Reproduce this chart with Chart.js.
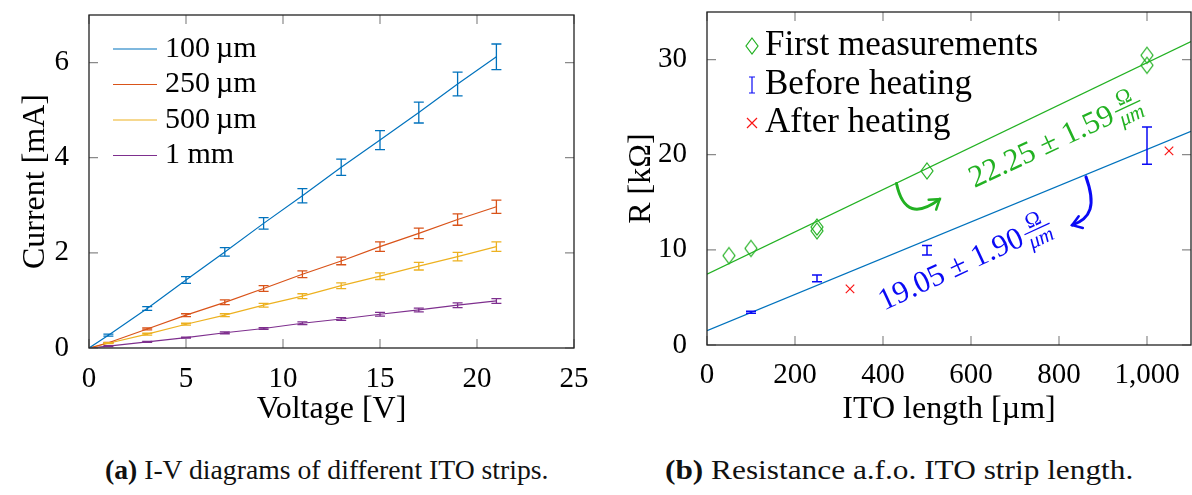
<!DOCTYPE html>
<html>
<head>
<meta charset="utf-8">
<script src="https://cdn.jsdelivr.net/npm/chart.js@4.4.1/dist/chart.umd.min.js"></script>
<style>
  body { margin: 0; background: #fff; width: 1192px; height: 495px; overflow: hidden; position: relative; font-family: "Liberation Serif", serif; }
  #ca { position: absolute; left: 0; top: 0; }
  #cb { position: absolute; left: 600px; top: 0; }
  .cap { position: absolute; top: 454px; font-size: 27px; line-height: 32px; white-space: nowrap; color: #111; transform-origin: 0 50%; }
</style>
</head>
<body>
<canvas id="ca" width="600" height="450"></canvas>
<canvas id="cb" width="592" height="450"></canvas>
<div class="cap" style="left:105px;transform:scaleX(1.025)"><b>(a)</b> I-V diagrams of different ITO strips.</div>
<div class="cap" style="left:665px;transform:scaleX(1.16)"><b>(b)</b> Resistance a.f.o. ITO strip length.</div>
<script>
// (a) I-V curves, current in mA, symmetric error in mA
var voltages = [0, 1, 3, 5, 7, 9, 11, 13, 15, 17, 19, 21];
var i100 = [0, 0.27, 0.83, 1.43, 2.02, 2.62, 3.20, 3.80, 4.37, 4.95, 5.55, 6.12];
var e100 = [0, 0.02, 0.04, 0.07, 0.09, 0.12, 0.15, 0.17, 0.20, 0.22, 0.25, 0.27];
var i250 = [0, 0.11, 0.40, 0.69, 0.96, 1.25, 1.55, 1.83, 2.13, 2.41, 2.70, 2.97];
var e250 = [0, 0.01, 0.02, 0.03, 0.05, 0.06, 0.07, 0.08, 0.10, 0.11, 0.12, 0.14];
var i500 = [0, 0.10, 0.29, 0.50, 0.69, 0.90, 1.09, 1.31, 1.51, 1.72, 1.92, 2.13];
var e500 = [0, 0.01, 0.02, 0.02, 0.03, 0.04, 0.05, 0.06, 0.07, 0.08, 0.09, 0.10];
var i1mm = [0, 0.04, 0.13, 0.22, 0.32, 0.41, 0.52, 0.61, 0.71, 0.80, 0.90, 0.99];
var e1mm = [0, 0.01, 0.01, 0.01, 0.02, 0.02, 0.03, 0.03, 0.04, 0.04, 0.05, 0.05];
var stripLabels = ['100\u2009µm', '250\u2009µm', '500\u2009µm', '1 mm'];

// (b) resistance in kOhm vs strip length in um
var firstLen = [50, 100, 250, 250, 500, 1000, 1000];
var firstR = [9.4, 10.15, 12.4, 12.0, 18.3, 30.45, 29.4];
var beforeLen = [100, 250, 500, 1000];
var beforeR = [3.45, 7.0, 9.95, 20.95];
var beforeErr = [0.1, 0.35, 0.5, 1.95];
var afterLen = [325, 1050];
var afterR = [5.9, 20.4];
var fitLen = [0, 1100];
var fitFirst = [7.45, 31.9];
var fitBefore = [1.5, 22.45];

var serif = '"Liberation Serif", serif';
var blue = 'rgb(0,114,189)', orange = 'rgb(217,83,25)', yellow = 'rgb(237,177,32)', purple = 'rgb(126,47,142)';
var green = 'rgb(34,177,34)', pureBlue = 'rgb(10,10,245)', red = 'rgb(250,20,20)';

function pts(xs, ys) {
  return xs.map(function (x, k) { return { x: x, y: ys[k] }; });
}

// tall hollow diamond, like the pgfplots marker
function diamondMark(w, h, color) {
  var c = document.createElement('canvas');
  c.width = w + 4; c.height = h + 4;
  var g = c.getContext('2d');
  g.strokeStyle = color;
  g.lineWidth = 1.2;
  g.beginPath();
  g.moveTo(c.width / 2, 2); g.lineTo(c.width - 2, c.height / 2);
  g.lineTo(c.width / 2, c.height - 2); g.lineTo(2, c.height / 2);
  g.closePath();
  g.stroke();
  return c;
}

// error bars, inward ticks, frame
function drawErrorBars(chart) {
  var ctx = chart.ctx, ys = chart.scales.y;
  chart.data.datasets.forEach(function (ds, i) {
    if (!ds.errorBars) return;
    var meta = chart.getDatasetMeta(i);
    ctx.save();
    ctx.strokeStyle = ds.errorColor || ds.borderColor;
    ctx.lineWidth = ds.errorWidth || 1.3;
    meta.data.forEach(function (pt, j) {
      var e = ds.errorBars[j];
      if (!e) return;
      var v = ds.data[j].y;
      var top = ys.getPixelForValue(v + e), bot = ys.getPixelForValue(v - e);
      var w = 5;
      ctx.beginPath();
      ctx.moveTo(pt.x, top); ctx.lineTo(pt.x, bot);
      ctx.moveTo(pt.x - w, top); ctx.lineTo(pt.x + w, top);
      ctx.moveTo(pt.x - w, bot); ctx.lineTo(pt.x + w, bot);
      ctx.stroke();
    });
    ctx.restore();
  });
}

function drawFrame(chart) {
  var ctx = chart.ctx, a = chart.chartArea, xs = chart.scales.x, ys = chart.scales.y;
  var L = 9;
  ctx.save();
  ctx.strokeStyle = '#8a8a8a';
  ctx.lineWidth = 1.2;
  ctx.beginPath();
  xs.ticks.forEach(function (t) {
    var px = xs.getPixelForValue(t.value);
    ctx.moveTo(px, a.bottom); ctx.lineTo(px, a.bottom - L);
    ctx.moveTo(px, a.top); ctx.lineTo(px, a.top + L);
  });
  ys.ticks.forEach(function (t) {
    var py = ys.getPixelForValue(t.value);
    ctx.moveTo(a.left, py); ctx.lineTo(a.left + L, py);
    ctx.moveTo(a.right, py); ctx.lineTo(a.right - L, py);
  });
  ctx.stroke();
  ctx.strokeStyle = '#222';
  ctx.lineWidth = 1.3;
  ctx.strokeRect(a.left, a.top, a.right - a.left, a.bottom - a.top);
  ctx.restore();
}

function makeDecor(id, extra) {
  return {
    id: id,
    afterDatasetsDraw: function (chart) { drawErrorBars(chart); },
    afterDraw: function (chart) { drawFrame(chart); extra(chart); }
  };
}

function legendA(chart) {
  var ctx = chart.ctx, a = chart.chartArea;
  ctx.save();
  ctx.font = '30px ' + serif;
  ctx.textBaseline = 'middle';
  ctx.fillStyle = '#000';
  chart.data.datasets.forEach(function (ds, i) {
    var y = a.top + 34 + i * 35.5;
    ctx.strokeStyle = ds.borderColor;
    ctx.lineWidth = 1.2;
    ctx.beginPath();
    ctx.moveTo(a.left + 24, y); ctx.lineTo(a.left + 68, y);
    ctx.stroke();
    ctx.fillText(ds.label, a.left + 76, y);
  });
  ctx.restore();
}

function legendB(chart) {
  var ctx = chart.ctx, a = chart.chartArea;
  var mx = a.left + 45, tx = a.left + 58;
  var rows = [a.top + 34, a.top + 73, a.top + 111];
  ctx.save();
  ctx.drawImage(diamondMark(12, 16, green), mx - 8, rows[0] - 10);
  ctx.lineWidth = 1.2;
  // error bar glyph
  ctx.strokeStyle = pureBlue;
  ctx.beginPath();
  ctx.moveTo(mx, rows[1] - 8); ctx.lineTo(mx, rows[1] + 8);
  ctx.moveTo(mx - 3, rows[1] - 8); ctx.lineTo(mx + 3, rows[1] - 8);
  ctx.moveTo(mx - 3, rows[1] + 8); ctx.lineTo(mx + 3, rows[1] + 8);
  ctx.stroke();
  // cross
  ctx.strokeStyle = red;
  ctx.beginPath();
  ctx.moveTo(mx - 5, rows[2] - 5); ctx.lineTo(mx + 5, rows[2] + 5);
  ctx.moveTo(mx + 5, rows[2] - 5); ctx.lineTo(mx - 5, rows[2] + 5);
  ctx.stroke();
  ctx.font = '35px ' + serif;
  ctx.fillStyle = '#000';
  ctx.textBaseline = 'middle';
  ctx.fillText('First measurements', tx, rows[0]);
  ctx.fillText('Before heating', tx, rows[1]);
  ctx.fillText('After heating', tx, rows[2]);
  ctx.restore();
}

// slope notes and curved arrows, placed in data coordinates
var slopeNotes = [
  { x: 608, y: 16.5, text: '22.25 ± 1.59', color: green,
    arrow: [[430.6, 16.98], [445, 13.9], [479, 13.6], [528.8, 15.33]] },
  { x: 402, y: 3.6, text: '19.05 ± 1.90', color: pureBlue,
    arrow: [[861.3, 17.67], [884.6, 14.7], [873, 13.3], [830, 12.6]] }
];

function notesB(chart) {
  var ctx = chart.ctx, xs = chart.scales.x, ys = chart.scales.y;
  slopeNotes.forEach(function (n) {
    ctx.save();
    ctx.translate(xs.getPixelForValue(n.x), ys.getPixelForValue(n.y));
    ctx.rotate(-25 * Math.PI / 180);
    ctx.fillStyle = n.color;
    ctx.font = '31px ' + serif;
    ctx.textBaseline = 'alphabetic';
    ctx.fillText(n.text, 0, 0);
    var w = ctx.measureText(n.text).width + 3;
    ctx.font = 'italic 21px ' + serif;
    var fw = ctx.measureText('μm').width + 2;
    ctx.textAlign = 'center';
    ctx.fillText('μm', w + fw / 2, 7);
    ctx.font = '21px ' + serif;
    ctx.fillText('Ω', w + fw / 2, -13);
    ctx.fillRect(w, -10, fw, 1.2);
    ctx.restore();

    var p = n.arrow.map(function (q) { return [xs.getPixelForValue(q[0]), ys.getPixelForValue(q[1])]; });
    ctx.save();
    ctx.strokeStyle = n.color;
    ctx.lineWidth = 3;
    ctx.lineCap = 'round';
    ctx.beginPath();
    ctx.moveTo(p[0][0], p[0][1]);
    ctx.bezierCurveTo(p[1][0], p[1][1], p[2][0], p[2][1], p[3][0], p[3][1]);
    ctx.stroke();
    var ang = Math.atan2(p[3][1] - p[2][1], p[3][0] - p[2][0]);
    ctx.lineWidth = 2.5;
    ctx.beginPath();
    ctx.moveTo(p[3][0] - 11 * Math.cos(ang - 0.6), p[3][1] - 11 * Math.sin(ang - 0.6));
    ctx.lineTo(p[3][0], p[3][1]);
    ctx.lineTo(p[3][0] - 11 * Math.cos(ang + 0.6), p[3][1] - 11 * Math.sin(ang + 0.6));
    ctx.stroke();
    ctx.restore();
  });
}

function axisX(min, max, step, title, height, pad) {
  return {
    type: 'linear', min: min, max: max,
    grid: { display: false }, border: { display: false },
    ticks: { stepSize: step, includeBounds: false, color: '#000', font: { family: serif, size: 29 }, padding: pad, maxRotation: 0 },
    title: { display: true, text: title, color: '#000', font: { family: serif, size: 32 }, padding: { top: 0, bottom: 21 } },
    afterFit: function (s) { s.height = height; s.paddingLeft = 0; s.paddingRight = 0; }
  };
}
function axisY(min, max, step, title, width, tpad) {
  return {
    type: 'linear', min: min, max: max,
    grid: { display: false }, border: { display: false },
    ticks: { stepSize: step, includeBounds: false, color: '#000', font: { family: serif, size: 29 }, padding: 12 },
    title: { display: true, text: title, color: '#000', font: { family: serif, size: 32 }, padding: { top: tpad, bottom: 0 } },
    afterFit: function (s) { s.width = width; s.paddingTop = 0; s.paddingBottom = 0; }
  };
}

function ivSet(label, ys, errs, color) {
  return { label: label, data: pts(voltages, ys), errorBars: errs, showLine: true, borderColor: color, backgroundColor: color, borderWidth: 1.2, pointRadius: 0, errorWidth: 1.3 };
}

new Chart(document.getElementById('ca'), {
  type: 'scatter',
  data: {
    datasets: [
      ivSet(stripLabels[0], i100, e100, blue),
      ivSet(stripLabels[1], i250, e250, orange),
      ivSet(stripLabels[2], i500, e500, yellow),
      ivSet(stripLabels[3], i1mm, e1mm, purple)
    ]
  },
  options: {
    responsive: false, animation: false, devicePixelRatio: 1,
    layout: { autoPadding: false, padding: { top: 15, right: 26, left: 0, bottom: 0 } },
    plugins: { legend: { display: false }, tooltip: { enabled: false } },
    scales: {
      x: axisX(0, 25, 5, 'Voltage [V]', 102, 6),
      y: axisY(0, 7, 2, 'Current [mA]', 89, 16)
    }
  },
  plugins: [makeDecor('decorA', legendA)]
});

new Chart(document.getElementById('cb'), {
  type: 'scatter',
  data: {
    datasets: [
      { label: 'fit first', data: pts(fitLen, fitFirst), showLine: true, borderColor: green, borderWidth: 1.2, pointRadius: 0 },
      { label: 'fit before', data: pts(fitLen, fitBefore), showLine: true, borderColor: blue, borderWidth: 1.2, pointRadius: 0 },
      { label: 'First measurements', data: pts(firstLen, firstR), pointStyle: diamondMark(12, 16, green), borderColor: green },
      { label: 'Before heating', data: pts(beforeLen, beforeR), errorBars: beforeErr, pointRadius: 0, borderColor: pureBlue, errorWidth: 1.5 },
      { label: 'After heating', data: pts(afterLen, afterR), pointStyle: 'crossRot', pointRadius: 6, borderColor: red, borderWidth: 1.2 }
    ]
  },
  options: {
    responsive: false, animation: false, devicePixelRatio: 1,
    layout: { autoPadding: false, padding: { top: 12, right: 1, left: 0, bottom: 0 } },
    plugins: { legend: { display: false }, tooltip: { enabled: false } },
    scales: {
      x: axisX(0, 1100, 200, 'ITO length [µm]', 105, 5),
      y: axisY(0, 35, 10, 'R [kΩ]', 107, 22)
    }
  },
  plugins: [makeDecor('decorB', function (c) { legendB(c); notesB(c); })]
});
</script>
</body>
</html>
